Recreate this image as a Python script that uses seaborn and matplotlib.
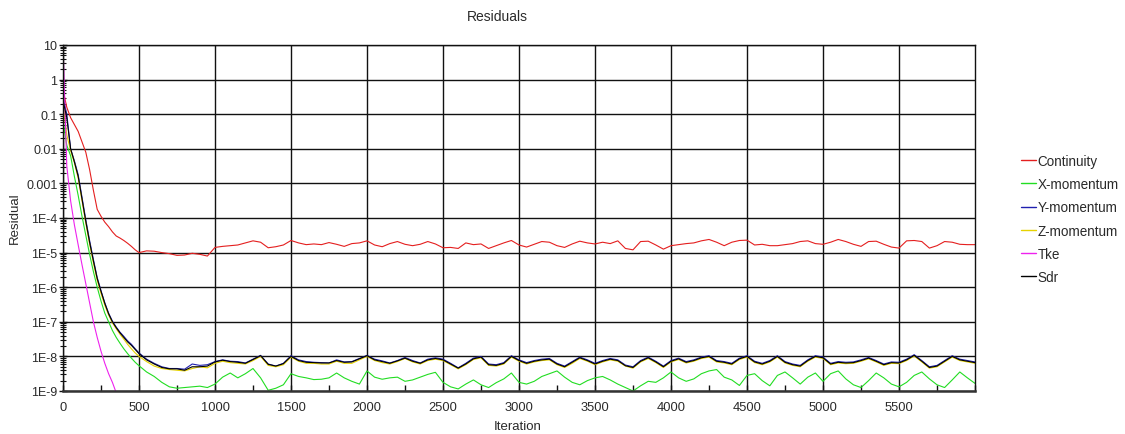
import numpy as np
import pandas as pd
import matplotlib
matplotlib.use("Agg")
import matplotlib.pyplot as plt
from matplotlib.ticker import FixedLocator, FixedFormatter, MultipleLocator, LogLocator, NullFormatter
import seaborn as sns

# Iteration grid: every 25 iterations up to 500, then every 50 iterations
iterations = np.concatenate([np.arange(0, 500, 25), np.arange(500, 6001, 50)])

# Residual values stored as base-10 exponents (residual = 10 ** value)
continuity_exp = [
    -0.3, -0.8, -1.1, -1.3, -1.5, -1.8, -2.1, -2.6, -3.2, -3.75, -3.95, -4.12, -4.25, -4.4, -4.52, -4.58, -4.65, -4.73, -4.82, -4.92, -5.0,
    -4.95, -4.96, -5.0, -5.03, -5.08, -5.07, -5.02, -5.05, -5.1, -4.85,
    -4.82, -4.8, -4.78, -4.72, -4.66, -4.7, -4.86, -4.83, -4.78, -4.65,
    -4.72, -4.77, -4.75, -4.77, -4.71, -4.76, -4.82, -4.74, -4.72, -4.66,
    -4.78, -4.83, -4.74, -4.68, -4.76, -4.8, -4.76, -4.68, -4.75, -4.86,
    -4.85, -4.88, -4.72, -4.77, -4.75, -4.88, -4.8, -4.72, -4.65, -4.78,
    -4.84, -4.76, -4.68, -4.7, -4.8, -4.85, -4.75, -4.67, -4.72, -4.75,
    -4.7, -4.74, -4.66, -4.88, -4.92, -4.68, -4.67, -4.78, -4.9, -4.8,
    -4.77, -4.74, -4.72, -4.66, -4.62, -4.7, -4.8, -4.7, -4.65, -4.64,
    -4.78, -4.76, -4.8, -4.8, -4.77, -4.74, -4.68, -4.66, -4.74, -4.76,
    -4.7, -4.62, -4.68, -4.76, -4.82, -4.68, -4.67, -4.76, -4.84, -4.87,
    -4.66, -4.65, -4.68, -4.87, -4.8, -4.68, -4.7, -4.76, -4.77, -4.77,
]

x_momentum_exp = [
    -1.2, -1.9, -2.2, -2.8, -3.35, -3.95, -4.5, -5.05, -5.55, -6.0, -6.4, -6.75, -7.0, -7.25, -7.45, -7.62, -7.78, -7.92, -8.05, -8.17, -8.27,
    -8.45, -8.58, -8.75, -8.88, -8.92, -8.9, -8.88, -8.86, -8.9, -8.8,
    -8.6, -8.48, -8.62, -8.5, -8.35, -8.62, -8.98, -8.92, -8.82, -8.5,
    -8.58, -8.62, -8.67, -8.66, -8.62, -8.48, -8.62, -8.72, -8.8, -8.42,
    -8.6, -8.66, -8.62, -8.6, -8.72, -8.68, -8.6, -8.52, -8.46, -8.75,
    -8.88, -8.94, -8.8, -8.68, -8.82, -8.9, -8.76, -8.65, -8.48, -8.75,
    -8.8, -8.72, -8.58, -8.5, -8.42, -8.6, -8.75, -8.82, -8.7, -8.62,
    -8.58, -8.68, -8.8, -8.9, -9.0, -8.85, -8.72, -8.75, -8.62, -8.45,
    -8.62, -8.72, -8.65, -8.5, -8.42, -8.38, -8.6, -8.68, -8.84, -8.55,
    -8.5, -8.7, -8.85, -8.55, -8.45, -8.62, -8.8, -8.6, -8.48, -8.72,
    -8.5, -8.42, -8.65, -8.82, -8.9, -8.7, -8.48, -8.62, -8.8, -8.88,
    -8.75, -8.55, -8.45, -8.65, -8.82, -8.9, -8.68, -8.45, -8.62, -8.78,
]

y_momentum_exp = [
    -0.5, -1.0, -2.0, -2.35, -2.75, -3.4, -4.05, -4.65, -5.2, -5.72, -6.1, -6.45, -6.75, -6.98, -7.15, -7.3, -7.42, -7.55, -7.65, -7.78, -7.9,
    -8.08, -8.2, -8.3, -8.35, -8.35, -8.37, -8.22, -8.26, -8.24, -8.15,
    -8.1, -8.14, -8.15, -8.19, -8.08, -7.97, -8.22, -8.28, -8.2, -7.98,
    -8.1, -8.15, -8.17, -8.18, -8.19, -8.1, -8.16, -8.15, -8.06, -7.97,
    -8.08, -8.13, -8.19, -8.12, -8.03, -8.12, -8.19, -8.08, -8.04, -8.08,
    -8.2, -8.33, -8.2, -8.05, -8.0, -8.22, -8.24, -8.18, -7.98, -8.1,
    -8.18, -8.12, -8.08, -8.06, -8.2, -8.28, -8.15, -8.02, -8.1, -8.2,
    -8.12, -8.06, -8.1, -8.25, -8.3, -8.12, -8.02, -8.14, -8.28, -8.12,
    -8.05, -8.15, -8.1, -8.02, -7.98, -8.12, -8.15, -8.2, -8.05, -7.98,
    -8.14, -8.2, -8.12, -7.98, -8.15, -8.22, -8.26, -8.1, -7.98, -8.02,
    -8.2, -8.15, -8.17, -8.16, -8.1, -8.03, -8.12, -8.22, -8.16, -8.17,
    -8.08, -7.95, -8.12, -8.3, -8.26, -8.12, -7.98, -8.08, -8.12, -8.16,
]

z_momentum_exp = [
    -0.7, -1.6, -2.05, -2.4, -2.85, -3.5, -4.15, -4.75, -5.3, -5.8, -6.18, -6.52, -6.8, -7.03, -7.2, -7.36, -7.5, -7.65, -7.78, -7.9, -8.0,
    -8.15, -8.28, -8.35, -8.38, -8.4, -8.42, -8.35, -8.3, -8.33, -8.2,
    -8.14, -8.18, -8.2, -8.22, -8.12, -8.0, -8.26, -8.3, -8.24, -8.02,
    -8.14, -8.2, -8.2, -8.22, -8.22, -8.14, -8.2, -8.2, -8.1, -8.0,
    -8.12, -8.18, -8.22, -8.15, -8.06, -8.16, -8.22, -8.12, -8.08, -8.12,
    -8.24, -8.36, -8.24, -8.09, -8.04, -8.26, -8.28, -8.22, -8.02, -8.14,
    -8.22, -8.16, -8.12, -8.1, -8.24, -8.32, -8.2, -8.06, -8.14, -8.24,
    -8.16, -8.1, -8.14, -8.28, -8.34, -8.16, -8.06, -8.18, -8.32, -8.16,
    -8.09, -8.19, -8.14, -8.06, -8.02, -8.16, -8.19, -8.24, -8.09, -8.02,
    -8.18, -8.24, -8.16, -8.02, -8.19, -8.26, -8.3, -8.14, -8.02, -8.06,
    -8.24, -8.19, -8.21, -8.2, -8.14, -8.07, -8.16, -8.26, -8.2, -8.21,
    -8.12, -7.99, -8.16, -8.34, -8.3, -8.16, -8.02, -8.12, -8.16, -8.2,
]

# Tke converges fast and leaves the plotted range after ~350 iterations
tke_exp = [1.0, -2.5, -3.5, -4.2, -4.78, -5.35, -5.9, -6.45, -7.0, -7.45, -7.85, -8.2, -8.5, -8.75, -9.05]

sdr_exp = [
    -0.6, -1.1, -2.0, -2.38, -2.8, -3.45, -4.1, -4.7, -5.24, -5.75, -6.12, -6.47, -6.77, -7.0, -7.17, -7.32, -7.45, -7.58, -7.68, -7.8, -7.92,
    -8.1, -8.22, -8.32, -8.36, -8.36, -8.4, -8.3, -8.3, -8.28, -8.16,
    -8.11, -8.15, -8.17, -8.2, -8.09, -7.98, -8.23, -8.28, -8.21, -8.0,
    -8.12, -8.17, -8.18, -8.19, -8.19, -8.12, -8.17, -8.16, -8.07, -7.98,
    -8.1, -8.15, -8.2, -8.13, -8.05, -8.14, -8.2, -8.1, -8.06, -8.1,
    -8.22, -8.34, -8.22, -8.07, -8.02, -8.24, -8.26, -8.2, -8.0, -8.12,
    -8.2, -8.14, -8.1, -8.08, -8.22, -8.3, -8.17, -8.04, -8.12, -8.22,
    -8.14, -8.08, -8.12, -8.27, -8.32, -8.14, -8.04, -8.16, -8.3, -8.14,
    -8.07, -8.17, -8.12, -8.04, -8.0, -8.14, -8.17, -8.22, -8.07, -8.0,
    -8.16, -8.22, -8.14, -8.0, -8.17, -8.24, -8.28, -8.12, -8.0, -8.04,
    -8.22, -8.17, -8.19, -8.18, -8.12, -8.05, -8.14, -8.24, -8.18, -8.19,
    -8.1, -7.97, -8.14, -8.32, -8.28, -8.14, -8.0, -8.1, -8.14, -8.18,
]

series_names = ["Continuity", "X-momentum", "Y-momentum", "Z-momentum", "Tke", "Sdr"]
series_exps = [continuity_exp, x_momentum_exp, y_momentum_exp, z_momentum_exp, tke_exp, sdr_exp]
series_colors = ["#e41f1f", "#22dd22", "#2020b0", "#e6d200", "#ee22ee", "#000000"]

y_tick_values = [1e-9, 1e-8, 1e-7, 1e-6, 1e-5, 1e-4, 1e-3, 1e-2, 1e-1, 1, 10]
y_tick_labels = ["1E-9", "1E-8", "1E-7", "1E-6", "1E-5", "1E-4", "0.001", "0.01", "0.1", "1", "10"]
x_tick_values = [0, 500, 1000, 1500, 2000, 2500, 3000, 3500, 4000, 4500, 5000, 5500]

# Long-form table for seaborn
frames = []
for name, exps in zip(series_names, series_exps):
    n = len(exps)
    frames.append(pd.DataFrame({
        "Iteration": iterations[:n],
        "Residual": np.power(10.0, np.asarray(exps, dtype=float)),
        "series": name,
    }))
data = pd.concat(frames, ignore_index=True)

sns.set_theme(style="white")
plt.rcParams["font.family"] = ["Liberation Sans", "DejaVu Sans"]
text_color = "#2a2a2a"

W, H = 1125, 435
fig = plt.figure(figsize=(W / 100, H / 100), dpi=100)
ax = fig.add_axes([63 / W, 1 - 392 / H, 912 / W, 346 / H])

sns.lineplot(
    data=data, x="Iteration", y="Residual", hue="series",
    hue_order=series_names, palette=dict(zip(series_names, series_colors)),
    estimator=None, sort=False, linewidth=0.8, ax=ax, legend=False,
)

ax.set_yscale("log")
ax.set_ylim(1e-9, 10)
ax.set_xlim(0, 6000)

ax.yaxis.set_major_locator(FixedLocator(y_tick_values))
ax.yaxis.set_major_formatter(FixedFormatter(y_tick_labels))
ax.yaxis.set_minor_locator(LogLocator(base=10, subs=np.arange(2, 10), numticks=20))
ax.yaxis.set_minor_formatter(NullFormatter())
ax.xaxis.set_major_locator(FixedLocator(x_tick_values))
ax.xaxis.set_minor_locator(MultipleLocator(250))

ax.grid(True, which="major", color="#111111", linewidth=1.0)
ax.set_axisbelow(True)
for side in ["top", "right", "left"]:
    ax.spines[side].set_color("#111111")
    ax.spines[side].set_linewidth(1.0)
ax.spines["bottom"].set_color("#333333")
ax.spines["bottom"].set_linewidth(1.8)

ax.tick_params(axis="y", which="major", direction="inout", length=6, width=1.0,
               colors="#111111", labelcolor=text_color, labelsize=9, pad=1, left=True)
ax.tick_params(axis="y", which="minor", direction="inout", length=4, width=0.8,
               colors="#111111", left=True)
ax.tick_params(axis="x", which="major", direction="in", length=4, width=1.0,
               colors="#111111", labelcolor=text_color, labelsize=9.3, pad=7, bottom=True)
ax.tick_params(axis="x", which="minor", direction="in", length=4, width=1.0,
               colors="#111111", bottom=True)

ax.set_xlabel("")
ax.set_ylabel("")
fig.text(518 / W, 1 - 427 / H, "Iteration", ha="center", va="center", fontsize=9.5, color=text_color)
fig.text(15 / W, 1 - 218 / H, "Residual", ha="center", va="center", rotation=90, fontsize=9.5, color=text_color)
fig.text(497 / W, 1 - 17 / H, "Residuals", ha="center", va="center", fontsize=10, color=text_color)

handles = [plt.Line2D([], [], color=c, linewidth=1.0) for c in series_colors]
fig.legend(handles, series_names, loc="upper left", bbox_to_anchor=(1021 / W, 1 - 155 / H),
           frameon=False, fontsize=9.75, handlelength=1.1, handletextpad=0.1,
           labelspacing=0.68, labelcolor=text_color, borderpad=0, borderaxespad=0)

fig.savefig("out.png", dpi=100, facecolor="white")
